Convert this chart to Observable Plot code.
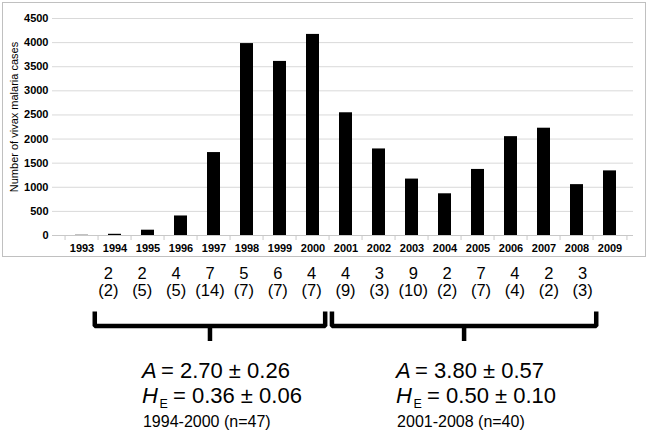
<!DOCTYPE html>
<html>
<head>
<meta charset="utf-8">
<script src="https://cdn.jsdelivr.net/npm/d3@7"></script>
<script src="https://cdn.jsdelivr.net/npm/@observablehq/plot@0.6"></script>
<style>
  html, body { margin: 0; padding: 0; background: #fff; }
  #wrap { position: relative; width: 652px; height: 430px; font-family: "Liberation Sans", Arial, sans-serif; }
  #border { position: absolute; left: 2px; top: 2px; width: 644px; height: 255px; box-sizing: border-box;
            border: 1.5px solid #c0c0c0; pointer-events: none; }
  svg { display: block; }
</style>
</head>
<body>
<div id="wrap"><div id="border"></div></div>
<script>
// ---- data ----
const years = ["1993","1994","1995","1996","1997","1998","1999","2000","2001","2002","2003","2004","2005","2006","2007","2008","2009"];
const cases = [5, 25, 110, 405, 1720, 3980, 3610, 4170, 2545, 1795, 1170, 865, 1370, 2050, 2225, 1055, 1340];
const yTicks = [0, 500, 1000, 1500, 2000, 2500, 3000, 3500, 4000, 4500];
const yLabel = "Number of vivax malaria cases";

const sampleYears = [1994,1995,1996,1997,1998,1999,2000,2001,2002,2003,2004,2005,2006,2007,2008];
const genotypes   = [2, 2, 4, 7, 5, 6, 4, 4, 3, 9, 2, 7, 4, 2, 3];
const isolates    = [2, 5, 5, 14, 7, 7, 7, 9, 3, 10, 2, 7, 4, 2, 3];

const groupStart  = [1994, 2001];
const groupEnd    = [2000, 2008];
const groupA      = ["2.70 ± 0.26", "3.80 ± 0.57"];
const groupHE     = ["0.36 ± 0.06", "0.50 ± 0.10"];
const groupPeriod = ["1994-2000 (n=47)", "2001-2008 (n=40)"];

// ---- tables ----
const bars = years.map((y, i) => ({year: y, cases: cases[i]}));
const samples = sampleYears.map((y, i) => ({year: y, g: genotypes[i], n: isolates[i]}));
const groups = groupStart.map((s, i) => ({start: s, end: groupEnd[i], A: groupA[i], HE: groupHE[i], period: groupPeriod[i]}));

const font = "'Liberation Sans', Arial, Helvetica, sans-serif";
const W = 652, ML = 57, MR = 19;
const step = (W - ML - MR) / years.length;
const gray = "#c8c8c8";

// ---- chart ----
const chart = Plot.plot({
  width: W, height: 258,
  marginLeft: ML, marginRight: MR, marginTop: 18, marginBottom: 23,
  style: {fontFamily: font, fontSize: "11px", fontWeight: "bold", color: "#000", background: "transparent", overflow: "visible"},
  x: {type: "band", domain: years, padding: 0, label: null},
  y: {domain: [0, 4500], label: null},
  marks: [
    Plot.ruleY(yTicks.slice(1), {stroke: "#d9d9d9", strokeWidth: 1, insetLeft: -5}),
    Plot.ruleY([0], {stroke: gray, strokeWidth: 1, insetLeft: -5}),
    Plot.axisX({tickSize: 5, tickFormat: () => "", dx: -step / 2, stroke: gray, label: null}),
    Plot.axisX({ticks: [years[years.length - 1]], tickSize: 5, tickFormat: () => "", dx: step / 2, stroke: gray, label: null}),
    Plot.axisX({tickSize: 0, tickPadding: 9, label: null}),
    Plot.axisY({ticks: yTicks, tickFormat: d => String(d), tickSize: 0, tickPadding: 9, label: null}),
    Plot.barY(bars, {x: "year", y: "cases", fill: "#000", insetLeft: 10, insetRight: 10}),
    Plot.text([yLabel], {text: d => d, frameAnchor: "left", textAnchor: "middle", rotate: -90, dx: -43.5, dy: -10, fontSize: 11, fontWeight: "normal"})
  ]
});

// ---- annotation below ----
const R = {count: 15, iso: 32, top: 53, bar: 67.5, stem: 83, l1: 119, l2: 144, sub: 149, l3: 168.3};
const mid = g => (g.start + g.end) / 2;
const bracketPts = groups.flatMap((g, i) => [
  {k: i, x: g.start - 0.4, y: R.top},
  {k: i, x: g.start - 0.4, y: R.bar},
  {k: i, x: g.end + 0.4, y: R.bar},
  {k: i, x: g.end + 0.4, y: R.top}
]);
const TX = -68;

const notes = Plot.plot({
  width: W, height: 172,
  marginLeft: ML, marginRight: MR, marginTop: 0, marginBottom: 0,
  style: {fontFamily: font, color: "#000", background: "transparent", overflow: "visible"},
  x: {domain: [1992.5, 2009.5], axis: null},
  y: {domain: [0, 172], range: [0, 172], axis: null},
  marks: [
    Plot.text(samples, {x: "year", y: () => R.count, text: d => String(d.g), fontSize: 16.5}),
    Plot.text(samples, {x: "year", y: () => R.iso, text: d => `(${d.n})`, fontSize: 16.5}),
    Plot.line(bracketPts, {x: "x", y: "y", z: "k", stroke: "#000", strokeWidth: 4.5, strokeLinejoin: "miter", strokeLinecap: "butt"}),
    Plot.ruleX(groups, {x: mid, y1: () => R.bar, y2: () => R.stem, stroke: "#000", strokeWidth: 4.5}),
    Plot.text(groups, {x: mid, y: () => R.l1, text: () => "A", fontStyle: "italic", fontSize: 22, textAnchor: "start", lineAnchor: "bottom", dx: TX}),
    Plot.text(groups, {x: mid, y: () => R.l1, text: g => "= " + g.A, fontSize: 22, textAnchor: "start", lineAnchor: "bottom", dx: TX + 19}),
    Plot.text(groups, {x: mid, y: () => R.l2, text: () => "H", fontStyle: "italic", fontSize: 22, textAnchor: "start", lineAnchor: "bottom", dx: TX}),
    Plot.text(groups, {x: mid, y: () => R.sub, text: () => "E", fontSize: 12.5, textAnchor: "start", lineAnchor: "bottom", dx: TX + 17.5}),
    Plot.text(groups, {x: mid, y: () => R.l2, text: g => "= " + g.HE, fontSize: 22, textAnchor: "start", lineAnchor: "bottom", dx: TX + 31}),
    Plot.text(groups, {x: mid, y: () => R.l3, text: g => g.period, fontSize: 16, textAnchor: "start", lineAnchor: "bottom", dx: TX + 1})
  ]
});

const wrap = document.getElementById("wrap");
wrap.insertBefore(chart, wrap.firstChild);
wrap.insertBefore(notes, document.getElementById("border"));
</script>
</body>
</html>
